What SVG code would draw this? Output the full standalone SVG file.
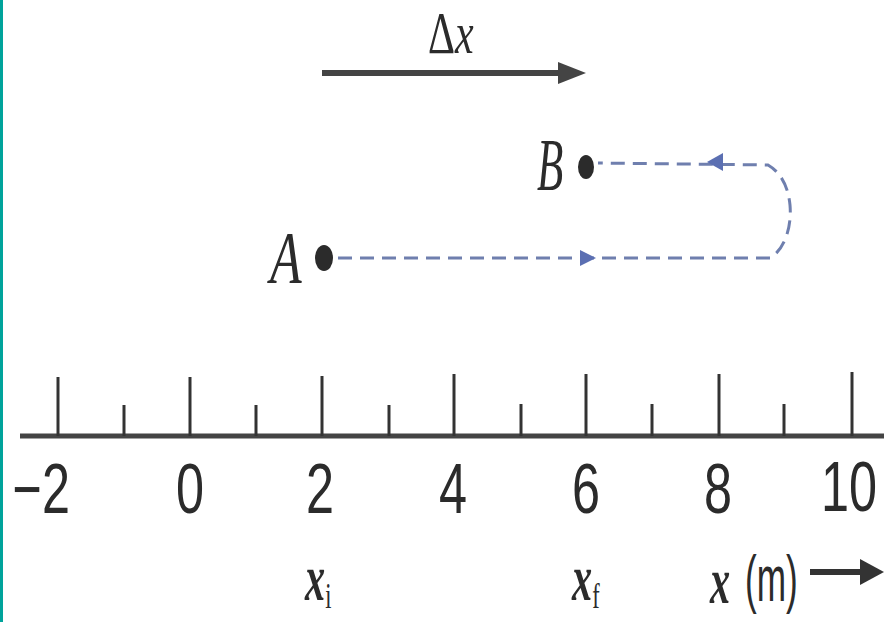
<svg xmlns="http://www.w3.org/2000/svg" width="884" height="622" viewBox="0 0 884 622">
<defs>
<style>
.num{font-family:"Liberation Sans",Arial,sans-serif;font-size:70px;fill:#2b2b2b;text-anchor:middle}
.it{font-family:"Liberation Serif","Times New Roman",serif;font-style:italic;fill:#2b2b2b}
.tick{stroke:#333;stroke-width:3}
.dash{stroke:#6f7fae;stroke-width:3;fill:none;stroke-dasharray:14 8}
</style>
</defs>
<rect x="0" y="0" width="884" height="622" fill="#fff"/>
<rect x="0" y="0" width="3" height="622" fill="#00a39b"/>

<g id="delta-x">
<text class="it" font-size="60" transform="translate(428,53) scale(0.7,1)"><tspan font-style="normal">Δ</tspan>x</text>
<line x1="322" y1="73" x2="562" y2="73" stroke="#444" stroke-width="6"/>
<path d="M558,62 L586,73 L558,84 z" fill="#444"/>
</g>

<g id="connectors">
<path class="dash" d="M338,258 L770,258 C784,250 792,228 790,205 C788,185 780,172 768,165 L598,163"/>
<path d="M596,258 L580,250 L580,266 z" fill="#5b6fb2"/>
<path d="M707,162 L723,153 L723,171 z" fill="#5b6fb2"/>
</g>

<g id="point-B">
<ellipse cx="586" cy="167" rx="8" ry="12" fill="#2b2b2b"/>
<text class="it" font-size="74" transform="translate(537,190) scale(0.58,1)">B</text>
</g>

<g id="point-A">
<ellipse cx="324" cy="258" rx="9" ry="13" fill="#2b2b2b"/>
<text class="it" font-size="74" transform="translate(270,283) scale(0.7,1)">A</text>
</g>

<g id="axis">
<line x1="20" y1="436" x2="884" y2="436" stroke="#444" stroke-width="5"/>
<line class="tick" x1="58" y1="377" x2="58" y2="436"/>
<line class="tick" x1="124" y1="405" x2="124" y2="436"/>
<line class="tick" x1="190" y1="377" x2="190" y2="436"/>
<line class="tick" x1="256" y1="405" x2="256" y2="436"/>
<line class="tick" x1="322" y1="376" x2="322" y2="436"/>
<line class="tick" x1="389" y1="405" x2="389" y2="436"/>
<line class="tick" x1="454" y1="374" x2="454" y2="436"/>
<line class="tick" x1="521" y1="404" x2="521" y2="436"/>
<line class="tick" x1="586" y1="374" x2="586" y2="436"/>
<line class="tick" x1="652" y1="404" x2="652" y2="436"/>
<line class="tick" x1="719" y1="374" x2="719" y2="436"/>
<line class="tick" x1="784" y1="404" x2="784" y2="436"/>
<line class="tick" x1="852" y1="372" x2="852" y2="436"/>
</g>

<g id="labels">
<text class="num" transform="translate(70,513) scale(0.72,1)" style="text-anchor:end">−2</text>
<text class="num" transform="translate(190,513) scale(0.72,1)">0</text>
<text class="num" transform="translate(320,513) scale(0.72,1)">2</text>
<text class="num" transform="translate(453,513) scale(0.72,1)">4</text>
<text class="num" transform="translate(586,513) scale(0.72,1)">6</text>
<text class="num" transform="translate(718,513) scale(0.72,1)">8</text>
<text class="num" transform="translate(849,511) scale(0.72,1)">10</text>
</g>

<g id="x-i">
<text class="it" font-size="65" font-weight="bold" transform="translate(305,600) scale(0.62,1)">x<tspan font-size="36" dy="8" font-style="normal" font-weight="normal">i</tspan></text>
</g>
<g id="x-f">
<text class="it" font-size="65" font-weight="bold" transform="translate(572,600) scale(0.62,1)">x<tspan font-size="36" dy="8" font-style="normal" font-weight="normal">f</tspan></text>
</g>
<g id="x-m">
<text class="it" font-size="65" font-weight="bold" transform="translate(710,603) scale(0.62,1)">x</text>
<text font-family="Liberation Sans,Arial,sans-serif" font-size="64" fill="#2b2b2b" transform="translate(745,601) scale(0.55,1)">(m)</text>
<line x1="810" y1="572" x2="864" y2="572" stroke="#333" stroke-width="6"/>
<path d="M860,559 L884,572 L860,585 z" fill="#333"/>
</g>
</svg>
